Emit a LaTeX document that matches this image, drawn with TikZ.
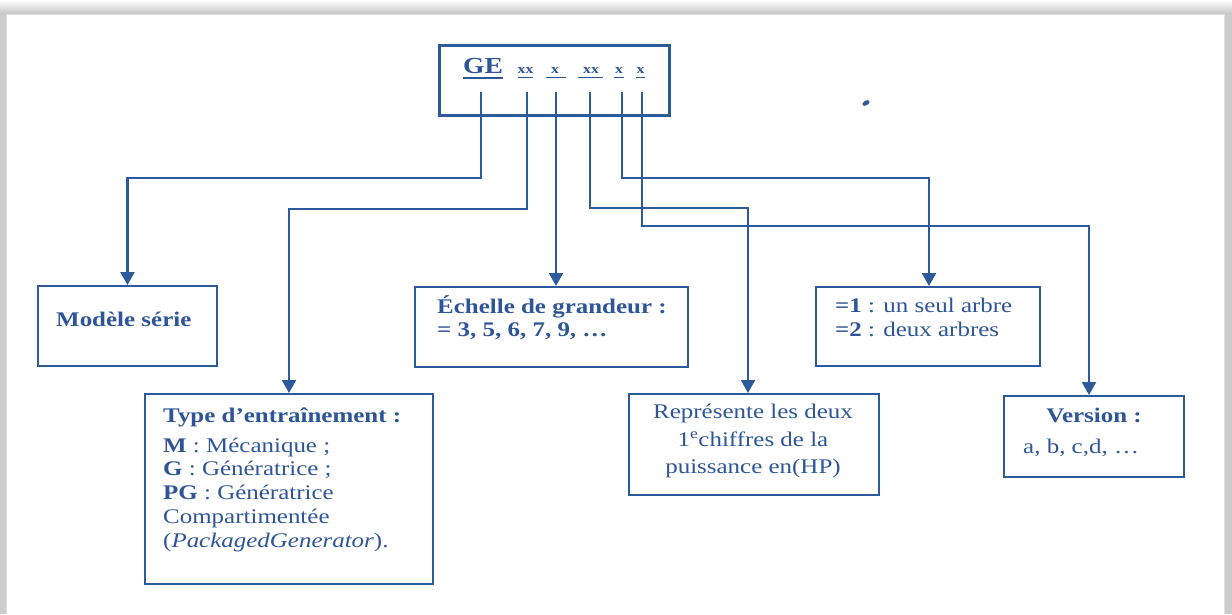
\documentclass[tikz,border=0pt]{standalone}
\usepackage{fontspec}
\setmainfont{Liberation Serif}[FakeStretch=1.2]
\usetikzlibrary{arrows.meta}
\definecolor{ink}{HTML}{2E5597}
\definecolor{ln}{HTML}{2D5A9A}
\tikzset{
  box/.style={draw=ln, line width=2pt, anchor=north west, inner sep=0pt},
  topbox/.style={draw=ln, line width=3pt, anchor=north west, inner sep=0pt},
  conn/.style={draw=ln, line width=2.2pt, -{Triangle[width=14pt,length=13pt]}},
  ulin/.style={draw=ink, line width=1pt},
  txt/.style={text=ink, font=\fontsize{20.8}{24}\selectfont, anchor=base west, inner sep=0pt},
  btxt/.style={txt, font=\bfseries\fontsize{20.8}{24}\selectfont},
  ctxt/.style={txt, anchor=base},
  small/.style={text=ink, font=\bfseries\fontsize{13}{15}\selectfont, anchor=base, inner sep=0pt},
}
\begin{document}
\begin{tikzpicture}[x=1pt, y=-1pt]
\useasboundingbox (0,0) rectangle (1232,614);
% page frame with shadow
\fill[gray!40] (0,0) rectangle (1232,614);
\shade[top color=white, bottom color=gray!45] (0,0) rectangle (1232,14);
\fill[white] (6,14) rectangle (1224,614);
\draw[gray!25, line width=0.8pt] (6,614) -- (6,14) -- (1224,14) -- (1224,614);

% code box
\node[topbox, minimum width=230pt, minimum height=70pt] (code) at (438,44) {};
\node[text=ink, font=\bfseries\fontsize{23}{26}\selectfont, anchor=base, inner sep=0pt] (ge) at (483,73) {GE};
\draw[ulin, line width=1.6pt] (463,78) -- (503,78);
\node[small] (l1) at (525.5,73) {xx};
\node[small] (l2) at (555,73) {x};
\node[small] (l3) at (591,73) {xx};
\node[small] (l4) at (619,73) {x};
\node[small] (l5) at (640.5,73) {x};
\draw[ulin] (518,77) -- (533,77);
\draw[ulin] (546,77) -- (566,77);
\draw[ulin] (578,77) -- (603,77);
\draw[ulin] (614,77) -- (624,77);
\draw[ulin] (636,77) -- (645,77);
\fill[ln, rotate around={30:(866,103)}] (866,103) ellipse (4pt and 2.3pt);

% start points of the leads
\coordinate (s1) at (481,92);
\coordinate (s2) at (527,92);
\coordinate (s3) at (556,92);
\coordinate (s4) at (590,92);
\coordinate (s5) at (622,92);
\coordinate (s6) at (642,92);

% boxes
\node[box, minimum width=179pt, minimum height=80pt] (modele) at (37,285) {};
\node[box, minimum width=288pt, minimum height=190pt] (type) at (144,393) {};
\node[box, minimum width=273pt, minimum height=80pt] (echelle) at (414,286) {};
\node[box, minimum width=250pt, minimum height=101pt] (repr) at (628,393) {};
\node[box, minimum width=224pt, minimum height=79pt] (arbre) at (815,286) {};
\node[box, minimum width=180pt, minimum height=81pt] (version) at (1003,395) {};

% connectors
\draw[conn] (s1) -- (481,178) -| (modele.north);
\draw[conn] (s2) -- (527,209) -| (type.north);
\draw[conn] (s3) -- (s3 |- echelle.north);
\draw[conn] (s4) -- (590,208) -| ([xshift=-6pt]repr.north);
\draw[conn] (s5) -- (622,178) -| ([xshift=1pt]arbre.north);
\draw[conn] (s6) -- (642,226) -| ([xshift=-5pt]version.north);

% texts
\node[btxt] (t1) at (56,326) {Modèle série};

\node[btxt] (t2a) at (163,422) {Type d’entraînement :};
\node[txt] (t2b) at (163,452) {\textbf{M} : Mécanique ;};
\node[txt] (t2c) at (163,475) {\textbf{G} : Génératrice ;};
\node[txt] (t2d) at (163,499) {\textbf{PG} : Génératrice};
\node[txt] (t2e) at (163,523) {Compartimentée};
\node[txt] (t2f) at (163,547) {(\textit{PackagedGenerator}).};

\node[btxt] (t3a) at (437,313) {Échelle de grandeur :};
\node[btxt] (t3b) at (437,336) {= 3, 5, 6, 7, 9, …};

\node[ctxt] (t4a) at (753,418) {Représente les deux};
\node[ctxt] (t4b) at (753,446) {1\textsuperscript{e}chiffres de la};
\node[ctxt] (t4c) at (753,473) {puissance en(HP)};

\node[txt] (t5a) at (835,312) {\textbf{=1} : un seul arbre};
\node[txt] (t5b) at (835,336) {\textbf{=2} : deux arbres};

\node[ctxt, font=\bfseries\fontsize{20.8}{24}\selectfont] (t6a) at (1094,422) {Version :};
\node[txt] (t6b) at (1023,453) {a, b, c,d, …};
\end{tikzpicture}
\end{document}
